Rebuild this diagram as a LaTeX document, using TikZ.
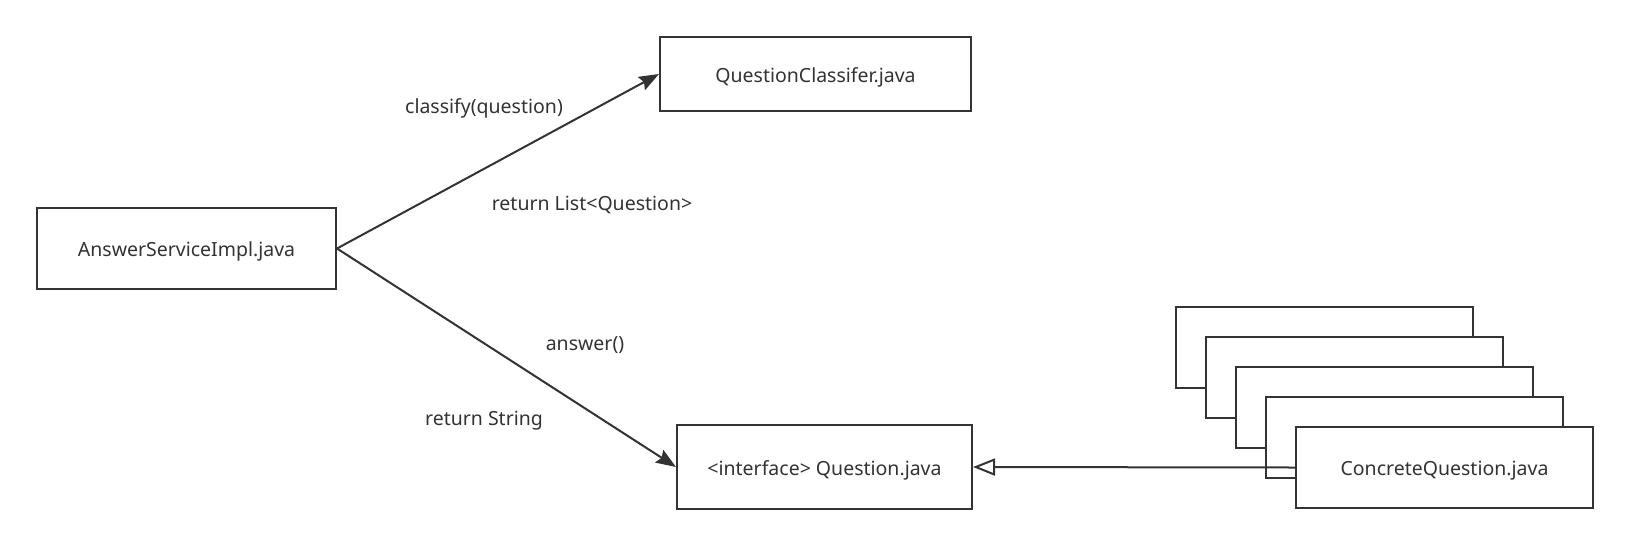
\documentclass[tikz,border=0pt]{standalone}
\usepackage{fontspec}
\setmainfont{Noto Sans}
\usetikzlibrary{arrows.meta}
\definecolor{ink}{HTML}{333333}
\tikzset{
  cls/.style={draw=ink, line width=2pt, fill=white, inner sep=0pt, text=ink,
    text height=17pt, text depth=1pt, font=\fontsize{19.5}{23}\selectfont},
  lbl/.style={text=ink, inner sep=0pt, yshift=-2.5pt, font=\fontsize{19.5}{23}\selectfont},
  call/.style={draw=ink, line width=2pt, -{Stealth[length=20pt,width=15pt,inset=3pt]}},
  impl/.style={draw=ink, line width=2pt, -{Triangle[open,length=22pt,width=17pt,line width=2pt]}}
}
\begin{document}
\begin{tikzpicture}[x=1pt,y=-1pt]
\useasboundingbox[fill=white] (0,0) rectangle (1630,547);
\node[cls, minimum width=299pt, minimum height=81pt] (asi) at (186.5,248.5) {AnswerServiceImpl.java};
\node[cls, minimum width=311pt, minimum height=74pt] (qc) at (815.5,74) {QuestionClassifer.java};
\node[cls, minimum width=295pt, minimum height=84pt] (q) at (824.5,467) {<interface> Question.java};
\node[cls, minimum width=297pt, minimum height=81pt] (c1) at (1324.5,347.5) {};
\node[cls, minimum width=297pt, minimum height=81pt] (c2) at (1354.5,377.5) {};
\node[cls, minimum width=297pt, minimum height=81pt] (c3) at (1384.5,407.5) {};
\node[cls, minimum width=297pt, minimum height=81pt] (c4) at (1414.5,437.5) {};
\node[cls, minimum width=297pt, minimum height=81pt] (c5) at (1444.5,467.5) {ConcreteQuestion.java};
\draw[call] (asi.east) -- (qc.west);
\draw[call] (asi.east) -- (q.west);
\draw[impl] (c5.west) -- (q.east);
\node[lbl] (l1) at (484,106) {classify(question)};
\node[lbl] (l2) at (592,202) {return List<Question>};
\node[lbl] (l3) at (585,343) {answer()};
\node[lbl] (l4) at (484,418) {return String};
\end{tikzpicture}
\end{document}
